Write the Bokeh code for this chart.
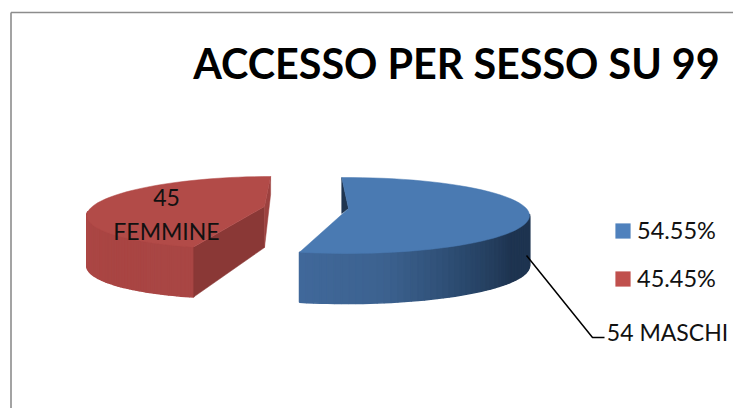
import math
from bokeh.plotting import figure
from bokeh.models import Legend, LegendItem
from bokeh.core.properties import value
from bokeh.embed import file_html
from bokeh.resources import INLINE

# data
title_text = "ACCESSO PER SESSO SU 99"
values = [54, 45]
slice_names = ["MASCHI", "FEMMINE"]
total = sum(values)
shares = [f"{v / total * 100:.2f}%" for v in values]
swatch_colors = ["#4f81bd", "#c0504d"]

p = figure(width=733, height=408, x_range=(0, 733), y_range=(408, 0),
           output_backend="svg", toolbar_location=None, min_border=0,
           outline_line_color=None, background_fill_color="white", border_fill_color="white")
p.axis.visible = False
p.grid.visible = False

# chart frame, running off the page on the right and bottom
p.line([10.5, 10.5], [408, 12], line_color="#8c8c8c", line_width=1.6)
p.line([10.5, 733], [12, 12], line_color="#8c8c8c", line_width=1.6)


def mix(a, b, f):
    ca = [int(a[i:i + 2], 16) for i in (1, 3, 5)]
    cb = [int(b[i:i + 2], 16) for i in (1, 3, 5)]
    return "#%02x%02x%02x" % tuple(round(x + (y - x) * f) for x, y in zip(ca, cb))


def slice_geom(cx, cy, rx, ry, shear):
    def pt(deg, drop=0.0):
        t = math.radians(deg)
        dy = -ry * math.cos(t)
        return cx + rx * math.sin(t) + shear * dy, cy + dy + drop
    return pt


def arc(pt, a, b, n=60, drop=0.0):
    pts = [pt(a + (b - a) * i / n, drop) for i in range(n + 1)]
    return [q[0] for q in pts], [q[1] for q in pts]


def side_bands(pt, a, b, depth, stops, n=48):
    xs, ys, cols = [], [], []
    for i in range(n):
        t0, t1 = a + (b - a) * i / n, a + (b - a) * (i + 1) / n
        p0, p1 = pt(t0), pt(t1)
        f = i / (n - 1) * (len(stops) - 1)
        k = min(int(f), len(stops) - 2)
        xs.append([p0[0], p1[0], p1[0], p0[0]])
        ys.append([p0[1], p1[1], p1[1] + depth, p0[1] + depth])
        cols.append(mix(stops[k], stops[k + 1], f - k))
    p.patches(xs, ys, fill_color=cols, line_color=cols, line_width=1.6)


sweep_blue = 360 * values[0] / total
sweep_red = 360 * values[1] / total

# red slice (back-left, exploded)
red_end = 360.0
red_start = red_end - sweep_red
red = slice_geom(255, 212, 168, 36, -0.42)
red_apex = (264, 206)
rf = red(red_start)
re = red(red_end)
red_depth = 50
side_bands(red, red_start, 272, red_depth, ["#a94644", "#a94543", "#ac4745"])
p.patch([red_apex[0], rf[0], rf[0], red_apex[0]],
        [red_apex[1], rf[1], rf[1] + red_depth, red_apex[1] + 41],
        fill_color="#8a3836", line_color="#8a3836", line_width=0.5)
p.patch([re[0], re[0], red_apex[0], red_apex[0]],
        [re[1], re[1] + 18, red_apex[1] + 41, red_apex[1]],
        fill_color="#9c413f", line_color="#9c413f", line_width=0.5)
ax, ay = arc(red, red_start, red_end)
p.patch(ax + [red_apex[0]], ay + [red_apex[1]], fill_color="#b24b48", line_color="#b24b48", line_width=0.5)

# blue slice
blue_start = -1.5
blue_end = blue_start + sweep_blue
blue = slice_geom(346, 215, 183, 38, 0.0)
blue_apex = (348, 208)
blue_depth = 50
bs = blue(blue_start)
p.patch([bs[0], blue_apex[0], bs[0]], [bs[1], blue_apex[1], blue_apex[1] + 5],
        fill_color="#1f3550", line_color="#1f3550", line_width=0.5)
side_bands(blue, blue_end, 88, blue_depth, ["#40689a", "#3c628f", "#2b4a6f", "#1e3450", "#1e3450"])
ax, ay = arc(blue, blue_start, blue_end)
p.patch(ax + [blue_apex[0]], ay + [blue_apex[1]], fill_color="#4a7ab2", line_color="#4a7ab2", line_width=0.5)

# leader line
p.line([526, 592, 604], [255, 337, 337], line_color="black", line_width=1.5)

font = value("Lato")
p.text([456], [62], text=[title_text], text_font=font, text_font_size="41.3px", text_font_style="bold",
       text_color="black", text_align="center", text_baseline="middle")
p.text([667], [331], text=[f"{values[0]} {slice_names[0]}"], text_font=font, text_font_size="23px",
       text_color="#111111", text_align="center", text_baseline="middle")
p.text([166, 166], [197, 230], text=[str(values[1]), slice_names[1]], text_font=font, text_font_size="23px",
       text_color="#111111", text_align="center", text_baseline="middle")

# legend
items = []
for share, col in zip(shares, swatch_colors):
    r = p.quad(left=[float("nan")], right=[float("nan")], top=[float("nan")], bottom=[float("nan")],
               fill_color=col, line_color=None)
    items.append(LegendItem(label=value(share), renderers=[r]))
legend = Legend(items=items, location=(613, 116), orientation="vertical", border_line_color=None,
                background_fill_alpha=0, glyph_width=19, glyph_height=19, label_text_font="Lato",
                label_text_font_size="23.5px", label_text_color="#111111", spacing=20, padding=0,
                margin=0, label_standoff=5, label_height=25)
p.add_layout(legend, "center")

open("out.html", "w").write(file_html(p, INLINE))
